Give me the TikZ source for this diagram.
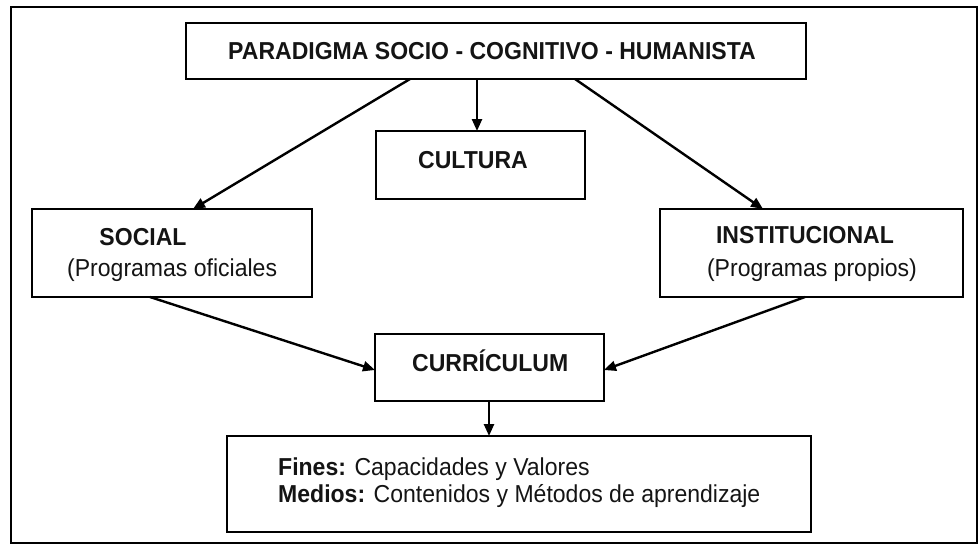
\documentclass[tikz,border=0pt]{standalone}
\usepackage{fontspec}
\setmainfont[FakeStretch=0.94]{Liberation Sans}
\usetikzlibrary{arrows.meta}
\begin{document}
\begin{tikzpicture}[x=1pt,y=-1pt,
  box/.style={draw=black, line width=1.8pt, rectangle, inner sep=0pt},
  arr/.style={line width=2.4pt, -{Triangle[length=12pt,width=10pt]}},
  lbl/.style={inner sep=0pt, font=\fontsize{24.5}{28}\selectfont, text=black!92},
]
\useasboundingbox (0,0) rectangle (979,544);
\draw[line width=1.5pt] (11,7) rectangle (977,543);

% boxes
\node[box, minimum width=620pt, minimum height=56pt] (top) at (496,51) {};
\node[box, minimum width=209pt, minimum height=68pt] (cult) at (480.5,165) {};
\node[box, minimum width=280pt, minimum height=88pt] (social) at (172,253) {};
\node[box, minimum width=303pt, minimum height=88pt] (inst) at (811.5,253) {};
\node[box, minimum width=229pt, minimum height=67pt] (curr) at (489.5,367.5) {};
\node[box, minimum width=584pt, minimum height=96pt] (bottom) at (519,484) {};

% texts
\node[lbl, anchor=base] (toptxt) at (492,59) {\bfseries PARADIGMA SOCIO - COGNITIVO - HUMANISTA};
\node[lbl, anchor=base] (culttxt) at (473,168.5) {\bfseries CULTURA};
\node[lbl, anchor=base] (socialtxt) at (143,245.5) {\bfseries SOCIAL};
\node[lbl, anchor=base west] (socialsub) at (67,276) {(Programas oficiales};
\node[lbl, anchor=base] (insttxt) at (805,243.5) {\bfseries INSTITUCIONAL};
\node[lbl, anchor=base] (instsub) at (812,276) {(Programas propios)};
\node[lbl, anchor=base west] (currtxt) at (412,371.5) {\bfseries CURR\'ICULUM};
\node[lbl, anchor=base west] (fines) at (278,475) {\textbf{Fines:} Capacidades y Valores};
\node[lbl, anchor=base west] (medios) at (278,502) {\textbf{Medios:} Contenidos y Métodos de aprendizaje};

% connector end points
\coordinate (s1) at (410,79);  \coordinate (e1) at (193,209);
\coordinate (s2) at (477,79);  \coordinate (e2) at (477,131);
\coordinate (s3) at (575,79);  \coordinate (e3) at (763,209);
\coordinate (s4) at (150,297); \coordinate (e4) at (375,370);
\coordinate (s5) at (805,297); \coordinate (e5) at (604,370);
\coordinate (s6) at (489,401); \coordinate (e6) at (489,436);

\draw[arr] (s1) -- (e1);
\draw[arr] (s2) -- (e2);
\draw[arr] (s3) -- (e3);
\draw[arr] (s4) -- (e4);
\draw[arr] (s5) -- (e5);
\draw[arr] (s6) -- (e6);
\end{tikzpicture}
\end{document}
